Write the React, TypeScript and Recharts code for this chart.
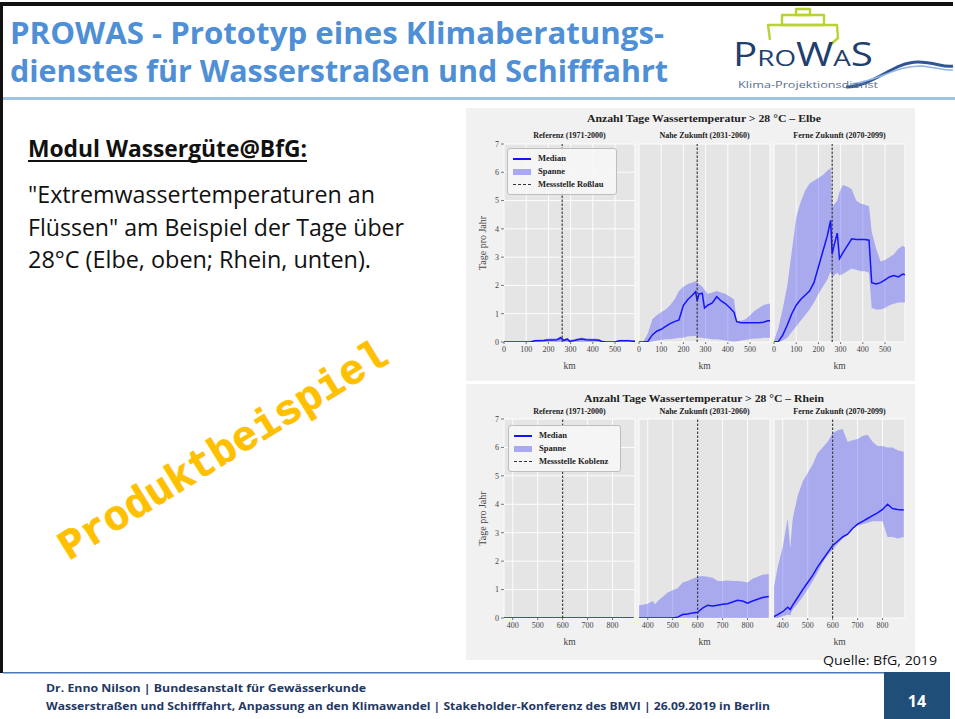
import React from 'react';
import {
  ComposedChart,
  Area,
  Line,
  XAxis,
  YAxis,
  CartesianGrid,
  ReferenceLine,
  Legend,
} from 'recharts';

// --- Elbe (km 0 .. 590), station Roßlau
const ELBE_KM = [0, 20, 40, 60, 80, 100, 120, 140, 160, 180, 200, 220, 240, 255, 262, 270, 285, 295, 310, 330, 350, 370, 390, 410, 428, 440, 460, 480, 500, 520, 540, 560, 580, 590];
const ELBE_REF_MEDIAN = [0, 0, 0, 0, 0, 0, 0, 0.04, 0.04, 0.05, 0.07, 0.07, 0.08, 0.15, 0.1, 0.06, 0.1, 0.03, 0.04, 0.08, 0.11, 0.08, 0.07, 0.07, 0.06, 0.02, 0, 0, 0, 0.04, 0.04, 0.04, 0.03, 0.03];
const ELBE_REF_LOW = [0, 0, 0, 0, 0, 0, 0, 0, 0, 0, 0, 0, 0, 0, 0, 0, 0, 0, 0, 0, 0, 0, 0, 0, 0, 0, 0, 0, 0, 0, 0, 0, 0, 0];
const ELBE_REF_HIGH = [0.03, 0.03, 0.03, 0.03, 0.03, 0.03, 0.04, 0.08, 0.09, 0.1, 0.12, 0.12, 0.13, 0.2, 0.15, 0.11, 0.15, 0.08, 0.09, 0.13, 0.16, 0.13, 0.12, 0.12, 0.11, 0.06, 0.03, 0.03, 0.03, 0.08, 0.08, 0.08, 0.07, 0.07];
const ELBE_NEAR_MEDIAN = [0, 0, 0.02, 0.25, 0.38, 0.45, 0.55, 0.65, 0.72, 0.78, 1.3, 1.5, 1.65, 1.78, 1.45, 1.7, 1.72, 1.2, 1.3, 1.38, 1.6, 1.45, 1.35, 1.2, 1.05, 0.72, 0.68, 0.68, 0.68, 0.68, 0.68, 0.7, 0.75, 0.75];
const ELBE_NEAR_LOW = [0, 0, 0, 0.02, 0.05, 0.07, 0.1, 0.1, 0.12, 0.15, 0.15, 0.2, 0.2, 0.22, 0.18, 0.15, 0.15, 0.12, 0.12, 0.1, 0.1, 0.08, 0.05, 0.03, 0.02, 0.02, 0.05, 0.08, 0.1, 0.12, 0.12, 0.15, 0.15, 0.15];
const ELBE_NEAR_HIGH = [0.02, 0.03, 0.3, 0.8, 0.95, 1.05, 1.15, 1.3, 1.5, 1.8, 1.95, 2.05, 2.1, 2.15, 2.1, 2.05, 1.95, 1.85, 1.7, 1.75, 1.8, 1.75, 1.7, 1.6, 1.5, 0.75, 0.75, 0.8, 0.95, 1.1, 1.2, 1.3, 1.35, 1.35];
const ELBE_FAR_MEDIAN = [0, 0.02, 0.25, 0.6, 1.0, 1.3, 1.5, 1.65, 1.8, 2.1, 2.65, 3.2, 3.75, 4.3, 3.1, 3.4, 3.85, 2.95, 3.15, 3.4, 3.65, 3.62, 3.62, 3.62, 3.6, 2.1, 2.05, 2.1, 2.2, 2.3, 2.35, 2.3, 2.4, 2.38];
const ELBE_FAR_LOW = [0, 0, 0.05, 0.15, 0.35, 0.55, 0.75, 0.95, 1.15, 1.4, 1.7, 1.95, 2.2, 2.5, 2.3, 2.35, 2.45, 2.35, 2.4, 2.5, 2.6, 2.55, 2.5, 2.5, 2.45, 1.2, 1.15, 1.15, 1.2, 1.3, 1.35, 1.4, 1.4, 1.4];
const ELBE_FAR_HIGH = [0.05, 0.5, 1.2, 2.0, 3.2, 4.4, 4.95, 5.35, 5.6, 5.7, 5.8, 5.9, 6.05, 6.15, 4.8, 4.85, 5.0, 5.3, 5.55, 5.5, 5.4, 5.0, 4.9, 4.85, 4.8, 3.9, 3.3, 2.85, 2.9, 3.0, 3.1, 3.3, 3.4, 3.35];

// --- Rhein (km 365 .. 890), station Koblenz
const RHEIN_KM = [365, 380, 400, 420, 430, 440, 460, 480, 500, 520, 540, 560, 580, 600, 620, 640, 660, 680, 700, 720, 740, 760, 780, 800, 820, 840, 860, 885];
const RHEIN_REF_MEDIAN = [0, 0, 0, 0, 0, 0, 0, 0, 0, 0, 0, 0, 0, 0, 0, 0, 0, 0, 0, 0, 0, 0, 0, 0, 0, 0, 0, 0];
const RHEIN_REF_LOW = [0, 0, 0, 0, 0, 0, 0, 0, 0, 0, 0, 0, 0, 0, 0, 0, 0, 0, 0, 0, 0, 0, 0, 0, 0, 0, 0, 0];
const RHEIN_REF_HIGH = [0.03, 0.03, 0.03, 0.03, 0.03, 0.03, 0.03, 0.03, 0.03, 0.03, 0.03, 0.03, 0.03, 0.03, 0.03, 0.03, 0.03, 0.03, 0.03, 0.03, 0.03, 0.03, 0.03, 0.03, 0.03, 0.03, 0.03, 0.03];
const RHEIN_NEAR_MEDIAN = [0, 0, 0, 0, 0, 0, 0, 0, 0, 0.03, 0.12, 0.14, 0.18, 0.2, 0.35, 0.45, 0.42, 0.45, 0.48, 0.5, 0.56, 0.62, 0.6, 0.52, 0.6, 0.66, 0.72, 0.76];
const RHEIN_NEAR_LOW = [0, 0, 0, 0, 0, 0, 0, 0, 0, 0, 0, 0, 0, 0, 0, 0, 0, 0, 0, 0, 0, 0, 0, 0, 0, 0, 0, 0];
const RHEIN_NEAR_HIGH = [0.45, 0.47, 0.5, 0.6, 0.48, 0.6, 0.75, 0.9, 0.98, 1.05, 1.25, 1.3, 1.38, 1.45, 1.48, 1.45, 1.42, 1.3, 1.3, 1.32, 1.3, 1.3, 1.28, 1.25, 1.38, 1.45, 1.52, 1.55];
const RHEIN_FAR_MEDIAN = [0.05, 0.12, 0.22, 0.38, 0.3, 0.45, 0.72, 1.0, 1.25, 1.5, 1.8, 2.05, 2.3, 2.55, 2.7, 2.85, 2.95, 3.15, 3.3, 3.4, 3.5, 3.6, 3.7, 3.82, 4.0, 3.85, 3.82, 3.8];
const RHEIN_FAR_LOW = [0, 0, 0.05, 0.12, 0.1, 0.3, 0.5, 0.75, 1.0, 1.3, 1.6, 1.95, 2.2, 2.4, 2.6, 2.8, 3.0, 3.15, 3.25, 3.3, 3.35, 3.4, 3.4, 3.4, 2.85, 2.85, 2.8, 2.85];
const RHEIN_FAR_HIGH = [1.1, 1.8, 2.5, 3.5, 2.45, 3.5, 4.3, 4.8, 5.1, 5.4, 5.8, 6.0, 6.2, 6.5, 6.6, 6.65, 6.2, 6.25, 6.3, 6.4, 6.45, 6.2, 6.05, 6.05, 6.0, 6.0, 5.9, 5.85];

const ELBE_TICKS = [0, 100, 200, 300, 400, 500];
const RHEIN_TICKS = [400, 500, 600, 700, 800];
const Y_TICKS = [0, 1, 2, 3, 4, 5, 6, 7];
const PERIODS = ['Referenz (1971-2000)', 'Nahe Zukunft (2031-2060)', 'Ferne Zukunft (2070-2099)'];

const SERIF = "'Liberation Serif', 'DejaVu Serif', serif";
const SANS = "'Open Sans', 'Noto Sans', sans-serif";
const BLUE = '#1414ff';
const PANEL_X = [504, 639, 774];
const PLOT_W = 131;

function buildRows(km: number[], median: number[], low: number[], high: number[]) {
  return km.map((k, i) => ({ km: k, median: median[i], spanne: [low[i], high[i]] }));
}

function legendContent(station: string, width: number) {
  return () => (
    <div
      style={{
        width,
        boxSizing: 'border-box',
        background: 'rgba(246,246,246,0.92)',
        border: '1px solid #bdbdbd',
        borderRadius: 3,
        padding: '3px 5px',
        fontFamily: SERIF,
        fontSize: 8.5,
        fontWeight: 600,
        color: '#222',
        lineHeight: '13px',
      }}
    >
      <div style={{ display: 'flex', alignItems: 'center' }}>
        <div style={{ width: 18, height: 2, background: BLUE, marginRight: 7 }} />
        Median
      </div>
      <div style={{ display: 'flex', alignItems: 'center' }}>
        <div style={{ width: 18, height: 6, background: '#a9a9f3', marginRight: 7 }} />
        Spanne
      </div>
      <div style={{ display: 'flex', alignItems: 'center' }}>
        <div style={{ width: 18, height: 0, borderTop: '1.2px dashed #333', marginRight: 7 }} />
        {station}
      </div>
    </div>
  );
}

type PanelProps = {
  rows: any[];
  domain: [number, number];
  ticks: number[];
  station: number;
  plotLeft: number;
  plotTop: number;
  plotH: number;
  first?: boolean;
  legend?: { name: string; width: number; left: number; top: number };
};

function Panel({ rows, domain, ticks, station, plotLeft, plotTop, plotH, first, legend }: PanelProps) {
  const ml = 6;
  const mr = 6;
  const yw = first ? 38 : 0;
  const top = 8;
  const xh = 30;
  const tickStyle = { fontSize: 8, fill: '#444', fontFamily: SERIF };
  return (
    <div style={{ position: 'absolute', left: plotLeft - ml - yw, top: plotTop - top }}>
      <ComposedChart
        width={ml + yw + PLOT_W + mr}
        height={top + plotH + xh}
        data={rows}
        margin={{ top, right: mr, bottom: 0, left: ml }}
      >
        <CartesianGrid stroke="#ffffff" strokeWidth={0.9} fill="#e5e5e5" />
        <XAxis
          type="number"
          dataKey="km"
          domain={domain}
          ticks={ticks}
          interval={0}
          allowDataOverflow
          height={xh}
          axisLine={false}
          tickLine={{ stroke: '#777' }}
          tickSize={2}
          tick={tickStyle}
          label={{ value: 'km', position: 'insideBottom', offset: 3, style: { fontSize: 9.5, fill: '#444', fontFamily: SERIF } }}
        />
        <YAxis
          type="number"
          domain={[0, 7]}
          ticks={Y_TICKS}
          interval={0}
          allowDataOverflow
          width={yw}
          axisLine={false}
          tickLine={first ? { stroke: '#777' } : false}
          tickSize={first ? 3 : 0}
          tick={first ? tickStyle : false}
          label={
            first
              ? {
                  value: 'Tage pro Jahr',
                  angle: -90,
                  position: 'insideLeft',
                  offset: 16,
                  style: { textAnchor: 'middle', fontSize: 10, fill: '#444', fontFamily: SERIF },
                }
              : undefined
          }
        />
        <Area
          type="linear"
          dataKey="spanne"
          stroke="none"
          fill="#3232ff"
          fillOpacity={0.33}
          isAnimationActive={false}
          name="Spanne"
        />
        <Line
          type="linear"
          dataKey="median"
          stroke={BLUE}
          strokeWidth={1.5}
          dot={false}
          isAnimationActive={false}
          name="Median"
        />
        <ReferenceLine x={station} stroke="#333" strokeWidth={1.1} strokeDasharray="2.5 1.5" />
        {legend && (
          <Legend
            layout="vertical"
            align="center"
            verticalAlign="middle"
            wrapperStyle={{ left: legend.left, top: legend.top, width: legend.width }}
            content={legendContent(legend.name, legend.width)}
          />
        )}
      </ComposedChart>
    </div>
  );
}

const elbeRows = [
  buildRows(ELBE_KM, ELBE_REF_MEDIAN, ELBE_REF_LOW, ELBE_REF_HIGH),
  buildRows(ELBE_KM, ELBE_NEAR_MEDIAN, ELBE_NEAR_LOW, ELBE_NEAR_HIGH),
  buildRows(ELBE_KM, ELBE_FAR_MEDIAN, ELBE_FAR_LOW, ELBE_FAR_HIGH),
];
const rheinRows = [
  buildRows(RHEIN_KM, RHEIN_REF_MEDIAN, RHEIN_REF_LOW, RHEIN_REF_HIGH),
  buildRows(RHEIN_KM, RHEIN_NEAR_MEDIAN, RHEIN_NEAR_LOW, RHEIN_NEAR_HIGH),
  buildRows(RHEIN_KM, RHEIN_FAR_MEDIAN, RHEIN_FAR_LOW, RHEIN_FAR_HIGH),
];

export default function App() {
  const titleBlue = '#4f8fd6';
  const navy = '#1f3864';
  return (
    <div style={{ position: 'absolute', left: 0, top: 0, width: 955, height: 719, background: '#fff', overflow: 'hidden' }}>
      <svg width={955} height={719} style={{ position: 'absolute', left: 0, top: 0 }}>
        {/* frame */}
        <rect x={0} y={2} width={953} height={4} fill="#111" />
        <rect x={0} y={2} width={3} height={671} fill="#111" />
        <rect x={3} y={97} width={952} height={3} fill="#9dc3e6" />

        {/* title */}
        <text x={10} y={44} fontFamily={SANS} fontWeight={700} fontSize={30} fill={titleBlue} textLength={654} lengthAdjust="spacingAndGlyphs">
          PROWAS - Prototyp eines Klimaberatungs-
        </text>
        <text x={10} y={82} fontFamily={SANS} fontWeight={700} fontSize={30} fill={titleBlue} textLength={658} lengthAdjust="spacingAndGlyphs">
          dienstes für Wasserstraßen und Schifffahrt
        </text>

        {/* logo */}
        <g fill="none" stroke="#b8d433" strokeWidth={2.4} strokeLinejoin="round">
          <rect x={796} y={9} width={14} height={6} />
          <rect x={782} y={15} width={42} height={10} />
          <path d="M770,40 L768,25 L837,25 L838,38 L828,47" />
        </g>
        <text x={733} y={66} fontFamily={SANS} fontWeight={400} fontSize={32} fill="#1f3f6e" style={{ fontVariant: 'small-caps' }} textLength={140} lengthAdjust="spacingAndGlyphs">
          ProWaS
        </text>
        <path d="M846,87 C875,86 893,62 918,62 C935,62 944,68 953,66" fill="none" stroke="#2f5597" strokeWidth={3} />
        <path d="M852,84 C880,80 896,66 920,66 C936,67 945,71 953,70" fill="none" stroke="#8fb4e3" strokeWidth={1.5} />
        <text x={738} y={88} fontFamily={SANS} fontSize={9} fill="#5a6f8f" textLength={140} lengthAdjust="spacingAndGlyphs">
          Klima-Projektionsdienst
        </text>

        {/* left text */}
        <text x={28} y={157} fontFamily={SANS} fontWeight={700} fontSize={23} fill="#111" textLength={279} lengthAdjust="spacingAndGlyphs">
          Modul Wassergüte@BfG:
        </text>
        <rect x={28} y={160} width={279} height={2} fill="#111" />
        <text x={28} y={203} fontFamily={SANS} fontSize={23} fill="#111" textLength={347} lengthAdjust="spacingAndGlyphs">
          "Extremwassertemperaturen an
        </text>
        <text x={28} y={236} fontFamily={SANS} fontSize={23} fill="#111" textLength={376} lengthAdjust="spacingAndGlyphs">
          Flüssen" am Beispiel der Tage über
        </text>
        <text x={28} y={268} fontFamily={SANS} fontSize={23} fill="#111" textLength={343} lengthAdjust="spacingAndGlyphs">
          28°C (Elbe, oben; Rhein, unten).
        </text>

        <text
          x={224}
          y={452}
          fontFamily="'Liberation Mono', 'DejaVu Sans Mono', monospace"
          fontWeight={700}
          fontSize={42}
          fill="#ffc000"
          stroke="#ffc000"
          strokeWidth={0.8}
          textAnchor="middle"
          dominantBaseline="central"
          transform="rotate(-31.7 224 452)"
        >
          Produktbeispiel
        </text>

        {/* figure backgrounds */}
        <rect x={466} y={108} width={449} height={273} fill="#f1f1f1" />
        <rect x={466} y={384} width={449} height={276} fill="#f1f1f1" />

        <text x={704} y={122} textAnchor="middle" fontFamily={SERIF} fontWeight={700} fontSize={10} fill="#222" textLength={234} lengthAdjust="spacingAndGlyphs">
          Anzahl Tage Wassertemperatur &gt; 28 °C – Elbe
        </text>
        <text x={704} y={402} textAnchor="middle" fontFamily={SERIF} fontWeight={700} fontSize={10} fill="#222" textLength={240} lengthAdjust="spacingAndGlyphs">
          Anzahl Tage Wassertemperatur &gt; 28 °C – Rhein
        </text>
        {PERIODS.map((p, i) => (
          <React.Fragment key={p}>
            <text x={PANEL_X[i] + PLOT_W / 2} y={138} textAnchor="middle" fontFamily={SERIF} fontWeight={700} fontSize={8} fill="#222">
              {p}
            </text>
            <text x={PANEL_X[i] + PLOT_W / 2} y={414} textAnchor="middle" fontFamily={SERIF} fontWeight={700} fontSize={8} fill="#222">
              {p}
            </text>
          </React.Fragment>
        ))}

        {/* source + footer */}
        <text x={823} y={665} fontFamily={SANS} fontSize={12.5} fill="#111" textLength={114} lengthAdjust="spacingAndGlyphs">
          Quelle: BfG, 2019
        </text>
        <rect x={3} y={672} width={881} height={1.5} fill="#4a78b8" />
        <rect x={884} y={672} width={66} height={47} fill="#1f4e79" />
        <text x={917} y={707} textAnchor="middle" fontFamily={SANS} fontWeight={700} fontSize={16} fill="#fff">
          14
        </text>
        <text x={46} y={692} fontFamily={SANS} fontWeight={700} fontSize={10.5} fill={navy} textLength={320} lengthAdjust="spacingAndGlyphs">
          Dr. Enno Nilson  |  Bundesanstalt für Gewässerkunde
        </text>
        <text x={46} y={710} fontFamily={SANS} fontWeight={700} fontSize={10.5} fill={navy} textLength={724} lengthAdjust="spacingAndGlyphs">
          Wasserstraßen und Schifffahrt, Anpassung an den Klimawandel | Stakeholder-Konferenz des BMVI | 26.09.2019 in Berlin
        </text>
      </svg>

      {elbeRows.map((rows, i) => (
        <Panel
          key={`elbe-${i}`}
          rows={rows}
          domain={[0, 590]}
          ticks={ELBE_TICKS}
          station={262}
          plotLeft={PANEL_X[i]}
          plotTop={144}
          plotH={198}
          first={i === 0}
          legend={i === 0 ? { name: 'Messstelle Roßlau', width: 110, left: 47, top: 12 } : undefined}
        />
      ))}
      {rheinRows.map((rows, i) => (
        <Panel
          key={`rhein-${i}`}
          rows={rows}
          domain={[365, 890]}
          ticks={RHEIN_TICKS}
          station={600}
          plotLeft={PANEL_X[i]}
          plotTop={419}
          plotH={199}
          first={i === 0}
          legend={i === 0 ? { name: 'Messstelle Koblenz', width: 113, left: 48, top: 14 } : undefined}
        />
      ))}
    </div>
  );
}
